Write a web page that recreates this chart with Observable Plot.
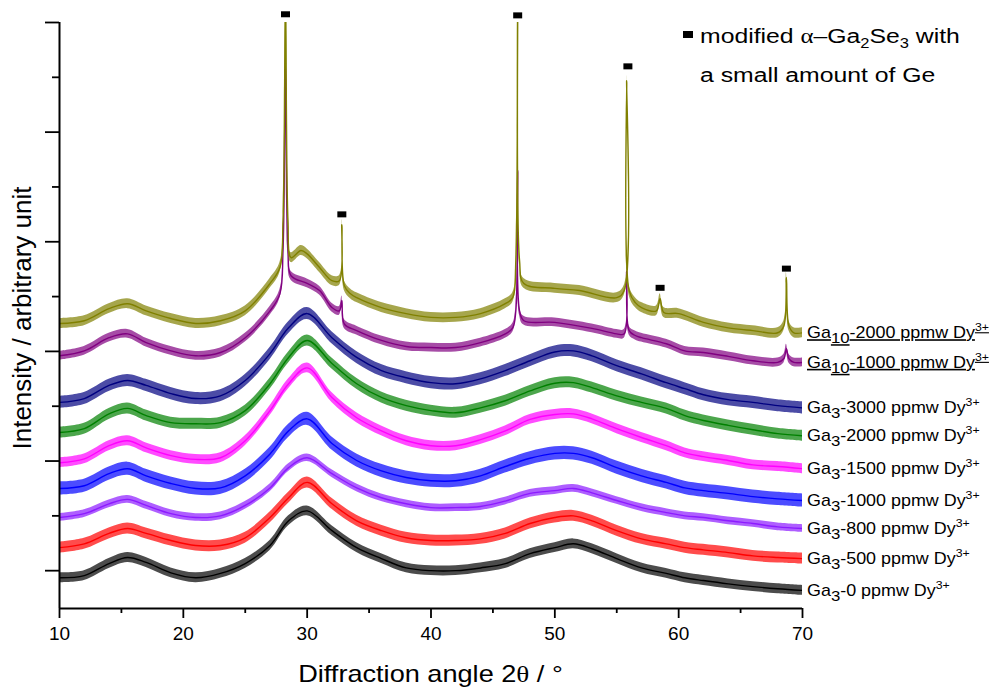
<!DOCTYPE html>
<html><head><meta charset="utf-8">
<script src="https://cdn.jsdelivr.net/npm/d3@7"></script>
<script src="https://cdn.jsdelivr.net/npm/@observablehq/plot@0.6"></script>
<style>body{margin:0;background:#fff} #chart{width:995px;height:687px}</style>
</head><body><div id="chart"></div>
<script>
// ---- data (y in arbitrary units, offset stacked) ----
const angleGa3 = [10, 12, 14, 15.5, 17, 19, 21, 23, 25, 27, 28.5, 30, 32, 34, 36, 38, 40, 42, 44, 46, 48, 50, 51.5, 53, 55, 57, 59, 60.5, 62, 64, 66, 68, 70];
const ga3_0    = [-0.13, -0.09, 0.13, 0.24, 0.15, -0.04, -0.13, -0.05, 0.13, 0.46, 0.91, 1.09, 0.73, 0.42, 0.22, 0.05, 0.00, 0.00, 0.05, 0.13, 0.31, 0.42, 0.49, 0.40, 0.22, 0.05, -0.05, -0.13, -0.18, -0.24, -0.29, -0.33, -0.36];
const ga3_500  = [0.42, 0.49, 0.68, 0.77, 0.68, 0.55, 0.46, 0.46, 0.60, 0.97, 1.33, 1.61, 1.22, 0.91, 0.73, 0.60, 0.55, 0.55, 0.58, 0.68, 0.86, 0.97, 1.00, 0.91, 0.73, 0.58, 0.49, 0.42, 0.38, 0.33, 0.27, 0.24, 0.22];
const ga3_800  = [0.97, 1.04, 1.22, 1.30, 1.19, 1.04, 0.97, 1.00, 1.19, 1.51, 1.88, 2.06, 1.77, 1.51, 1.33, 1.22, 1.15, 1.15, 1.17, 1.27, 1.41, 1.46, 1.50, 1.42, 1.28, 1.15, 1.06, 1.00, 0.97, 0.91, 0.86, 0.80, 0.77];
const ga3_1000 = [1.50, 1.55, 1.77, 1.86, 1.73, 1.59, 1.50, 1.51, 1.73, 2.13, 2.55, 2.77, 2.32, 2.01, 1.82, 1.70, 1.64, 1.64, 1.73, 1.90, 2.05, 2.14, 2.14, 2.06, 1.88, 1.73, 1.61, 1.51, 1.46, 1.41, 1.35, 1.31, 1.28];
const ga3_1500 = [1.97, 2.04, 2.28, 2.37, 2.24, 2.10, 2.03, 2.06, 2.37, 2.92, 3.41, 3.70, 3.16, 2.79, 2.55, 2.37, 2.28, 2.28, 2.39, 2.55, 2.76, 2.85, 2.86, 2.77, 2.59, 2.43, 2.28, 2.15, 2.08, 2.01, 1.93, 1.90, 1.86];
const ga3_2000 = [2.52, 2.59, 2.86, 2.96, 2.83, 2.70, 2.68, 2.70, 2.92, 3.41, 3.89, 4.20, 3.78, 3.41, 3.16, 3.01, 2.92, 2.88, 2.97, 3.10, 3.28, 3.42, 3.43, 3.34, 3.19, 3.07, 2.96, 2.83, 2.74, 2.65, 2.57, 2.50, 2.46];
const ga3_3000 = [3.07, 3.14, 3.38, 3.47, 3.38, 3.23, 3.14, 3.19, 3.47, 3.96, 4.43, 4.69, 4.25, 3.89, 3.65, 3.52, 3.43, 3.41, 3.50, 3.65, 3.83, 3.99, 4.01, 3.92, 3.74, 3.59, 3.43, 3.32, 3.21, 3.12, 3.07, 3.01, 2.97];

const angleGa10_1000 = [10, 12, 14, 15.5, 17, 19, 21, 23, 25, 27, 27.8, 28.05, 28.25, 28.45, 28.7, 30, 31, 32, 32.6, 32.8, 33.0, 34, 36, 38, 40, 42, 44, 46, 46.6, 46.85, 47.0, 47.15, 47.5, 50, 53, 55, 55.6, 55.8, 56.0, 56.5, 57, 59, 60.5, 62, 64, 66, 68, 68.5, 68.7, 68.9, 69.3, 70];
const ga10_1000      = [3.92, 4.01, 4.25, 4.32, 4.16, 4.01, 3.92, 3.98, 4.25, 4.74, 5.05, 5.84, 9.27, 5.84, 5.38, 5.24, 5.11, 4.80, 4.74, 4.93, 4.50, 4.38, 4.20, 4.09, 4.07, 4.07, 4.16, 4.32, 4.43, 4.74, 7.30, 4.74, 4.56, 4.53, 4.42, 4.32, 4.32, 5.46, 4.38, 4.29, 4.25, 4.14, 4.01, 3.98, 3.91, 3.83, 3.80, 3.87, 4.05, 3.87, 3.80, 3.80];

const angleGa10_2000 = [10, 12, 14, 15.5, 17, 19, 21, 23, 25, 27, 27.8, 28.05, 28.25, 28.45, 28.7, 29.5, 30, 31, 32, 32.6, 32.8, 33.0, 33.5, 34, 36, 38, 40, 42, 44, 46, 46.6, 46.85, 47.0, 47.15, 47.5, 50, 52, 55, 55.6, 55.8, 56.0, 56.5, 57, 58.2, 58.5, 58.8, 60, 62, 64, 66, 68, 68.5, 68.7, 68.9, 69.3, 70];
const ga10_2000      = [4.51, 4.56, 4.78, 4.87, 4.74, 4.60, 4.51, 4.56, 4.74, 5.24, 5.53, 6.39, 10.6, 6.39, 5.71, 5.84, 5.78, 5.53, 5.29, 5.29, 6.31, 5.20, 5.05, 4.98, 4.80, 4.69, 4.62, 4.62, 4.69, 4.87, 4.98, 5.66, 10.6, 5.66, 5.24, 5.15, 5.11, 4.98, 5.11, 8.94, 5.11, 4.89, 4.80, 4.74, 4.96, 4.71, 4.69, 4.53, 4.43, 4.38, 4.34, 4.47, 5.35, 4.47, 4.34, 4.34];

const seriesAngles = [angleGa3, angleGa3, angleGa3, angleGa3, angleGa3, angleGa3, angleGa3, angleGa10_1000, angleGa10_2000];
const seriesValues = [ga3_0, ga3_500, ga3_800, ga3_1000, ga3_1500, ga3_2000, ga3_3000, ga10_1000, ga10_2000];
const seriesColors = ["#000000", "#ff0000", "#8c1aff", "#0000ff", "#ff00ff", "#008000", "#000080", "#800080", "#808000"];
const seriesNoise  = [0.09, 0.10, 0.07, 0.12, 0.09, 0.10, 0.11, 0.08, 0.09];
const labelSub     = ["3", "3", "3", "3", "3", "3", "3", "10", "10"];
const labelRest    = ["-0 ppmw Dy", "-500 ppmw Dy", "-800 ppmw Dy", "-1000 ppmw Dy", "-1500 ppmw Dy", "-2000 ppmw Dy", "-3000 ppmw Dy", "-1000 ppmw Dy", "-2000 ppmw Dy"];
const labelUnderline = [false, false, false, false, false, false, false, true, true];

const peakAngles = [28.25, 32.8, 47.0, 55.9, 58.5, 68.7];
const peakMarkY  = [10.15, 6.50, 10.13, 9.20, 5.16, 5.51];

const xTicks = [10, 20, 30, 40, 50, 60, 70];
const xMinorTicks = [15, 25, 35, 45, 55, 65];
const yMajorTicks = [0, 2, 4, 6, 8, 10];
const yMinorTicks = [1, 3, 5, 7, 9];

// ---- build ----
const FONT = "'Liberation Sans', Arial, Helvetica, sans-serif";
const SERIF = "'Liberation Serif', 'Times New Roman', serif";
const series = seriesValues.map((vals, i) => ({
  color: seriesColors[i],
  rows: seriesAngles[i].map((a, j) => ({x: a, y: vals[j], n: seriesNoise[i]}))
}));

const rectSymbol = {draw(ctx) { ctx.rect(-4.5, -3, 9, 6); }};

const traceMarks = series.flatMap(s => [
  Plot.areaY(s.rows, {x: "x", y1: d => d.y - d.n, y2: d => d.y + d.n, fill: s.color, fillOpacity: 0.7, curve: "catmull-rom", clip: true}),
  Plot.lineY(s.rows, {x: "x", y: "y", stroke: s.color, strokeWidth: 1.4, curve: "catmull-rom", clip: true})
]);

const plot = Plot.plot({
  width: 995, height: 687,
  marginLeft: 59, marginRight: 193, marginTop: 22, marginBottom: 79,
  x: {domain: [10, 70], label: null},
  y: {domain: [-0.69, 10], label: null},
  style: {fontFamily: FONT, background: "white", color: "black", overflow: "visible"},
  marks: [
    ...traceMarks,
    Plot.axisX({ticks: xTicks, tickSize: 10, tickPadding: 8, fontSize: 19, strokeWidth: 1.8, label: null}),
    Plot.axisX({ticks: xMinorTicks, tickSize: 5, tickFormat: () => "", strokeWidth: 1.8, label: null}),
    Plot.axisY({ticks: yMajorTicks, tickSize: 14, tickFormat: () => "", strokeWidth: 1.8, label: null}),
    Plot.axisY({ticks: yMinorTicks, tickSize: 7, tickFormat: () => "", strokeWidth: 1.8, label: null}),
    Plot.ruleX([10], {strokeWidth: 2}),
    Plot.ruleY([-0.69], {strokeWidth: 2}),
    Plot.dot(peakAngles.map((a, i) => ({x: a, y: peakMarkY[i]})), {x: "x", y: "y", symbol: rectSymbol, r: 4, fill: "black", stroke: "none"})
  ]
});
document.getElementById("chart").appendChild(plot);

// ---- texts with sub/superscripts, placed through the scales ----
const svg = d3.select(plot);
const xs = plot.scale("x"), ys = plot.scale("y");

series.forEach((s, i) => {
  const last = seriesValues[i][seriesValues[i].length - 1];
  const px = xs.apply(70) + 5, py = ys.apply(last) + 6;
  const g = svg.append("g").attr("transform", `translate(${px},${py}) scale(1.12,1)`);
  const t = g.append("text").attr("font-family", FONT).attr("font-size", 16).attr("fill", "black").attr("text-anchor", "start");
  if (labelUnderline[i]) t.attr("text-decoration", "underline");
  t.append("tspan").text("Ga");
  t.append("tspan").attr("dy", 5).attr("font-size", 15).text(labelSub[i]);
  t.append("tspan").attr("dy", -5).text(labelRest[i]);
  t.append("tspan").attr("dy", -7).attr("font-size", 11).text("3+");
});

// legend
const lg = svg.append("g");
lg.append("rect").attr("x", 683).attr("y", 31).attr("width", 10).attr("height", 7).attr("fill", "black");
const l1 = lg.append("g").attr("transform", "translate(700,43) scale(1.18,1)")
  .append("text").attr("font-family", FONT).attr("font-size", 21).attr("fill", "black").attr("text-anchor", "start");
l1.append("tspan").text("modified ");
l1.append("tspan").attr("font-family", SERIF).text("α");
l1.append("tspan").text("–Ga");
l1.append("tspan").attr("dy", 5).attr("font-size", 14).text("2");
l1.append("tspan").attr("dy", -5).text("Se");
l1.append("tspan").attr("dy", 5).attr("font-size", 14).text("3");
l1.append("tspan").attr("dy", -5).text(" with");
lg.append("g").attr("transform", "translate(700,82) scale(1.18,1)")
  .append("text").attr("font-family", FONT).attr("font-size", 21).attr("fill", "black").attr("text-anchor", "start")
  .text("a small amount of Ge");

// axis titles
const xt = svg.append("g").attr("transform", `translate(${(xs.apply(10) + xs.apply(70)) / 2},682) scale(1.18,1)`)
  .append("text").attr("font-family", FONT).attr("font-size", 23).attr("text-anchor", "middle").attr("fill", "black");
xt.append("tspan").text("Diffraction angle 2");
xt.append("tspan").attr("font-family", SERIF).text("θ");
xt.append("tspan").text(" / °");

svg.append("text").attr("transform", "translate(31,318) rotate(-90)")
  .attr("font-family", FONT).attr("font-size", 26).attr("text-anchor", "middle").attr("fill", "black")
  .text("Intensity / arbitrary unit");
</script>
</body></html>
